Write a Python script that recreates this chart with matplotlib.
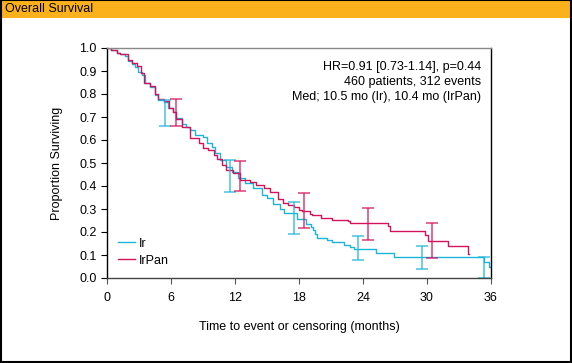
import matplotlib
matplotlib.use('Agg')
import matplotlib.pyplot as plt
from matplotlib.patches import Rectangle

plt.rcParams['font.family'] = ['Liberation Sans', 'DejaVu Sans']

# Kaplan-Meier steps (months, proportion surviving)
ir_t = [0, 0.4, 0.9, 1.2, 1.7, 2.0, 2.3, 2.6, 2.9, 3.25, 3.6, 4.0, 4.5, 4.8, 5.3,
        5.75, 6.2, 6.5, 7.0, 7.4, 7.8, 8.25, 9.0, 9.35, 9.8, 10.1, 10.6, 11.2,
        11.7, 12.3, 12.9, 13.7, 14.5, 15.0, 15.6, 16.2, 16.6, 17.8, 18.7, 19.1,
        19.3, 19.5, 19.7, 20.6, 21.1, 22.2, 22.8, 23.2, 25.2, 26.9, 35.3, 35.8, 36.0]
ir_s = [1.0, 0.99, 0.98, 0.972, 0.965, 0.945, 0.93, 0.919, 0.897, 0.883, 0.85,
        0.832, 0.796, 0.774, 0.767, 0.738, 0.723, 0.694, 0.67, 0.655, 0.643, 0.622,
        0.614, 0.586, 0.571, 0.542, 0.513, 0.484, 0.462, 0.433, 0.412, 0.39, 0.361,
        0.346, 0.32, 0.299, 0.284, 0.257, 0.235, 0.22, 0.209, 0.19, 0.172, 0.165,
        0.157, 0.143, 0.133, 0.127, 0.110, 0.091, 0.071, 0.049, 0.049]

pan_t = [0, 0.4, 0.9, 1.2, 2.0, 2.3, 2.8, 3.2, 3.5, 4.0, 4.5, 4.8, 5.3, 5.8, 6.2,
         6.5, 7.0, 7.8, 8.6, 9.0, 9.5, 10.0, 10.3, 10.75, 11.2, 11.8, 12.5, 13.4,
         14.0, 14.7, 15.3, 16.0, 16.5, 17.0, 17.5, 18.0, 18.3, 19.0, 19.2, 20.1,
         21.1, 22.6, 22.8, 26.3, 26.5, 29.8, 30.1, 32.0, 33.8, 33.9]
pan_s = [1.0, 0.99, 0.98, 0.975, 0.95, 0.935, 0.92, 0.89, 0.85, 0.835, 0.80, 0.78,
         0.77, 0.74, 0.72, 0.69, 0.655, 0.607, 0.586, 0.564, 0.557, 0.535, 0.516,
         0.491, 0.47, 0.455, 0.426, 0.419, 0.404, 0.39, 0.375, 0.342, 0.325, 0.318,
         0.308, 0.297, 0.29, 0.28, 0.274, 0.263, 0.253, 0.249, 0.238, 0.224, 0.205,
         0.187, 0.161, 0.14, 0.104, 0.104]

# confidence intervals at 6-monthly landmarks
ir_ci_t = [5.4, 11.5, 17.56, 23.56, 29.5, 35.3]
ir_ci_lo = [0.661, 0.375, 0.191, 0.077, 0.039, 0.0]
ir_ci_hi = [0.774, 0.513, 0.329, 0.183, 0.141, 0.093]
pan_ci_t = [6.5, 12.5, 18.5, 24.5, 30.5]
pan_ci_lo = [0.661, 0.378, 0.216, 0.164, 0.086]
pan_ci_hi = [0.777, 0.509, 0.368, 0.306, 0.238]

stats = ['HR=0.91 [0.73-1.14], p=0.44',
         '460 patients, 312 events',
         'Med; 10.5 mo (Ir), 10.4 mo (IrPan)']

cyan = '#1db4da'
red = '#d4145a'

fig = plt.figure(figsize=(5.72, 3.63), dpi=100)

# orange title bar and frame
fig.patches.append(Rectangle((0, 1 - 18 / 363), 1, 18 / 363, transform=fig.transFigure,
                             facecolor='#fbb11b', edgecolor='none'))
fig.patches.append(Rectangle((0.001, 0.004), 0.997, 0.995, transform=fig.transFigure,
                             fill=False, edgecolor='black', lw=1.5))
fig.text(5 / 572, 1 - 9.5 / 363, 'Overall Survival', va='center', fontsize=9)

ax = fig.add_axes([107 / 572, 1 - 278 / 363, 384 / 572, 230 / 363])

ax.plot(ir_t, ir_s, drawstyle='steps-post', color=cyan, lw=1.0, label='Ir')
ax.plot(pan_t, pan_s, drawstyle='steps-post', color=red, lw=1.0, label='IrPan')

for t, lo, hi, c in [(ir_ci_t, ir_ci_lo, ir_ci_hi, cyan), (pan_ci_t, pan_ci_lo, pan_ci_hi, red)]:
    mid = [(a + b) / 2 for a, b in zip(lo, hi)]
    ax.errorbar(t, mid, yerr=[[m - a for m, a in zip(mid, lo)], [b - m for m, b in zip(mid, hi)]],
                fmt='none', ecolor=c, elinewidth=1.2, capsize=4, capthick=1.2, alpha=0.75)

ax.set_xlim(0, 36)
ax.set_ylim(0, 1)
ax.set_xticks(range(0, 37, 6))
ax.set_yticks([i / 10 for i in range(11)])
ax.set_yticklabels([f'{i / 10:.1f}' for i in range(11)])
ax.tick_params(labelsize=9, length=4, width=0.8, direction='out')
ax.tick_params(axis='x', colors='#555555', labelcolor='black', pad=6)

ax.spines['top'].set_color('#888888')
ax.spines['bottom'].set_color('#444444')
for s in ax.spines.values():
    s.set_linewidth(1.0)

ax.set_xlabel('Time to event or censoring (months)', fontsize=9, labelpad=12)
ax.set_ylabel('Proportion Surviving', fontsize=9, labelpad=12)

for i, line in enumerate(stats):
    ax.text(0.974, 0.918 - i * 0.065, line, transform=ax.transAxes, ha='right', va='center',
            fontsize=9)

ax.legend(loc='lower left', bbox_to_anchor=(0.0, 0.0), frameon=False, fontsize=9,
          handlelength=1.3, handletextpad=0.35, labelspacing=0.4)

fig.savefig('out.png', dpi=100)
